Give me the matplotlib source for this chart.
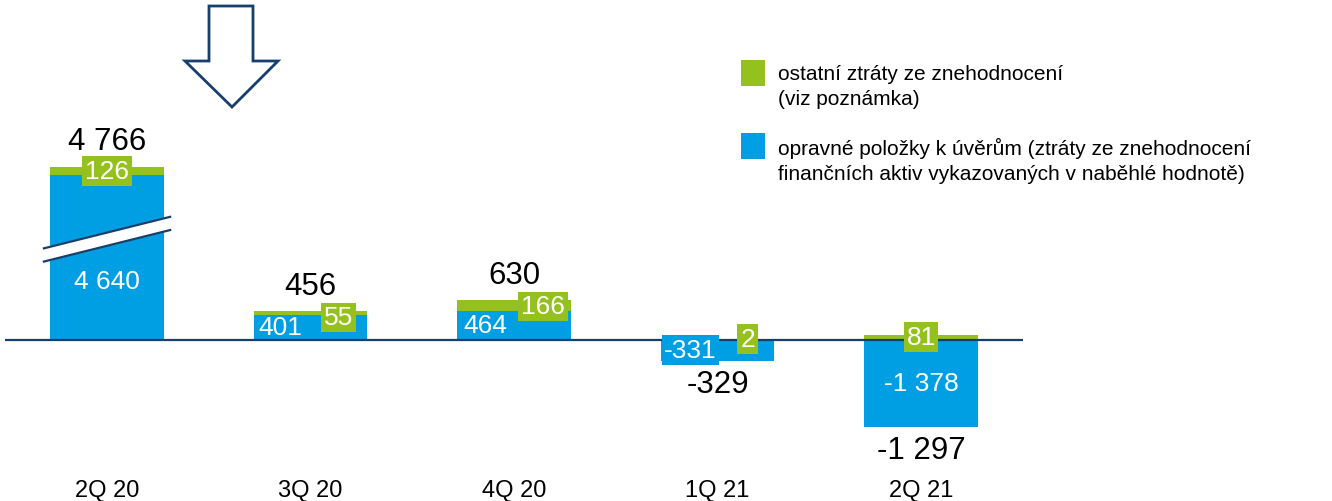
import numpy as np
import matplotlib
matplotlib.use("Agg")
import matplotlib.pyplot as plt
from matplotlib.patches import Polygon, Rectangle

plt.rcParams['font.family'] = ['Liberation Sans', 'DejaVu Sans']

# data
quarters = ['2Q 20', '3Q 20', '4Q 20', '1Q 21', '2Q 21']
loans = [4640, 401, 464, -331, -1378]      # opravné položky k úvěrům
other = [126, 55, 166, 2, 81]              # ostatní ztráty ze znehodnocení
totals = [4766, 456, 630, -329, -1297]
legend_labels = ['ostatní ztráty ze znehodnocení\n(viz poznámka)',
                 'opravné položky k úvěrům (ztráty ze znehodnocení\nfinančních aktiv vykazovaných v naběhlé hodnotě)']

BLUE = '#009fe3'
GREEN = '#95c11f'
NAVY = '#173f6b'

W, H = 1332, 502
K = 0.063          # pixels per unit
BASE = 341         # baseline pixel row
STEP = 203.5       # pixels between bars
CAP = 2620         # displayed height of the broken first bar


def fmt(v):
    s = '{:,}'.format(abs(v)).replace(',', ' ')
    return ('-' if v < 0 else '') + s


fig = plt.figure(figsize=(W / 100, H / 100), dpi=100)
ax = fig.add_axes([0, 0, 1, 1])
ax.set_xlim(-107 / STEP, (W - 107) / STEP)
ax.set_ylim(-(H - BASE) / K, BASE / K)
ax.axis('off')

x = np.arange(len(quarters))
shown = np.array([min(v, CAP) for v in loans])
green_bottom = np.where(shown > 0, shown, 0)
bw = 0.56
ax.bar(x, shown, bw, color=BLUE, zorder=2)
ax.bar(x, other, bw, bottom=green_bottom, color=GREEN, zorder=2)
ax.hlines(0, -0.5, len(quarters) - 0.5, color=NAVY, lw=1.6, zorder=3)

# break in first bar
mid, gap, tilt, ext = 1600, 105, 250, 0.31
band = Polygon([(-ext, mid + gap - tilt), (ext, mid + gap + tilt),
                (ext, mid - gap + tilt), (-ext, mid - gap - tilt)],
               closed=True, color='white', zorder=4)
ax.add_patch(band)
for s in (1, -1):
    ax.plot([-ext, ext], [mid + s * gap - tilt, mid + s * gap + tilt],
            color=NAVY, lw=1.6, zorder=5)

# label layout (pixel offsets from bar centre / baseline)
px = 1 / STEP
py = 1 / K
blue_dx = [0, -30, -29, -27, 0]
green_dx = [0, 28, 29, 30, 0]
green_y = [None, None, None, 1 * py, 3 * py]

for i in range(len(quarters)):
    top = green_bottom[i] + other[i]
    if i == 0:
        gy = top - 4 * py
        by = 59 * py
    elif i in (1, 2):
        gy = top - 6 * py
        by = shown[i] / 2
    else:
        gy = green_y[i]
        by = -10 * py if i == 3 else shown[i] / 2
    ax.text(x[i] + green_dx[i] * px, gy, fmt(other[i]), color='white',
            fontsize=19, ha='center', va='center', zorder=6,
            bbox=dict(boxstyle='square,pad=0.1', fc=GREEN, ec='none'))
    bbox = dict(boxstyle='square,pad=0.1', fc=BLUE, ec='none') if i == 3 else None
    ax.text(x[i] + blue_dx[i] * px, by, fmt(loans[i]), color='white',
            fontsize=19, ha='center', va='center', zorder=6, bbox=bbox)
    if totals[i] > 0:
        ax.text(x[i], top + (10 if i else 11) * py, fmt(totals[i]), fontsize=22.5,
                ha='center', va='bottom', zorder=6)
    else:
        ax.text(x[i], min(shown[i], 0) - 8 * py, fmt(totals[i]), fontsize=22.5,
                ha='center', va='top', zorder=6)
    ax.text(x[i], -(491 - BASE) * py, quarters[i], fontsize=17,
            ha='center', va='center')

# down arrow
arrow_px = [(209, 7), (253, 7), (253, 62), (278, 62), (232, 108), (185, 62), (209, 62)]
fig.patches.append(Polygon([(a / W, 1 - b / H) for a, b in arrow_px], closed=True,
                           fc='white', ec=NAVY, lw=2, transform=fig.transFigure))

# legend
for j, (lab, col) in enumerate(zip(legend_labels, [GREEN, BLUE])):
    y0 = 61 + j * 73
    fig.patches.append(Rectangle((741 / W, 1 - (y0 + 26) / H), 24 / W, 26 / H,
                                 fc=col, ec='none', transform=fig.transFigure))
    fig.text(778 / W, 1 - (y0 + 3.5) / H, lab, fontsize=15, va='top', ha='left',
             linespacing=1.45)

fig.savefig('out.png', dpi=100)
